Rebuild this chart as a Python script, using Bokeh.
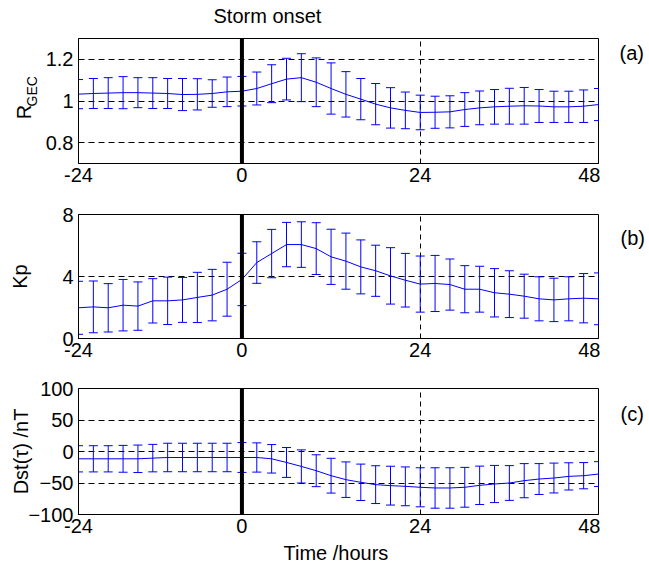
from bokeh.plotting import figure
from bokeh.models import (ColumnDataSource, Whisker, TeeHead, Range1d, FixedTicker,
                          NumeralTickFormatter, Span, LinearAxis)
from bokeh.core.properties import value
from bokeh.layouts import column, row
from bokeh.embed import file_html
from bokeh.resources import INLINE

# ---------------- data ----------------
hours = [-22, -20, -18, -16, -14, -12, -10, -8, -6, -4, -2, 0, 2, 4, 6, 8, 10, 12,
         14, 16, 18, 20, 22, 24, 26, 28, 30, 32, 34, 36, 38, 40, 42, 44, 46, 48]
x_ticks = [-22, 0, 24, 48]
x_tick_labels = {-22: "-24"}

rgec_mean = [1.033, 1.036, 1.038, 1.040, 1.040, 1.038, 1.036, 1.031, 1.032, 1.036, 1.044, 1.047,
             1.060, 1.083, 1.105, 1.112, 1.090, 1.060, 1.032, 1.009, 0.985, 0.967, 0.955, 0.945,
             0.946, 0.948, 0.959, 0.967, 0.972, 0.975, 0.977, 0.976, 0.972, 0.972, 0.975, 0.983]
rgec_std = [0.070, 0.072, 0.074, 0.077, 0.072, 0.074, 0.072, 0.077, 0.075, 0.066, 0.071, 0.071,
            0.079, 0.091, 0.100, 0.115, 0.117, 0.123, 0.109, 0.099, 0.099, 0.097, 0.088, 0.083,
            0.077, 0.077, 0.081, 0.081, 0.083, 0.086, 0.088, 0.079, 0.075, 0.075, 0.078, 0.077]

kp_mean = [1.98, 2.04, 1.98, 2.15, 2.09, 2.43, 2.43, 2.49, 2.65, 2.80, 3.18, 3.81,
           4.90, 5.48, 6.06, 6.06, 5.80, 5.27, 4.99, 4.62, 4.37, 4.04, 3.76, 3.51,
           3.55, 3.48, 3.18, 3.18, 2.95, 2.86, 2.73, 2.56, 2.49, 2.56, 2.60, 2.56]
kp_std = [1.71, 1.67, 1.56, 1.66, 1.56, 1.43, 1.53, 1.45, 1.62, 1.66, 1.74, 1.69,
          1.34, 1.56, 1.43, 1.47, 1.67, 1.78, 1.81, 1.74, 1.65, 1.82, 1.73, 1.81,
          1.81, 1.65, 1.52, 1.48, 1.56, 1.51, 1.42, 1.42, 1.40, 1.42, 1.59, 1.67]

dst_mean = [-11.6, -11.6, -11.6, -11.6, -11.6, -10.5, -9.5, -9.5, -9.5, -9.5, -9.5, -9.5,
            -9.5, -11.6, -17.4, -23.7, -30.5, -38.4, -44.7, -48.9, -52.6, -54.2, -55.3, -56.8,
            -57.9, -57.9, -56.8, -53.7, -51.6, -50.0, -46.3, -43.7, -42.1, -39.5, -38.4, -35.8]
dst_std = [20.8, 20.8, 20.8, 21.3, 21.8, 21.8, 22.6, 22.6, 22.6, 22.6, 22.6, 23.7,
           23.2, 22.6, 23.7, 26.3, 25.3, 27.6, 28.2, 28.9, 30.0, 30.8, 30.8, 31.0,
           32.1, 32.1, 31.6, 30.5, 29.5, 27.6, 27.1, 24.5, 23.7, 21.6, 20.8, 19.7]

FONT = "Liberation Sans"
FS = "20px"
BLUE = "#0000ff"
NB = "\u00a0"
TOTAL_W = 648
PANEL_W = 600        # panel figures: frame from x=78 to x=598
RIGHT_W = TOTAL_W - PANEL_W
DY = 7.5             # measured offset between anchor and drawn baseline


def style_label(ax, text, size, standoff):
    ax.axis_label = text
    ax.axis_label_text_font = FONT
    ax.axis_label_text_font_size = size
    ax.axis_label_text_font_style = "normal"
    ax.axis_label_text_color = "black"
    ax.axis_label_standoff = standoff


def make_panel(mean, std, yr, yticks, height, top, bottom, fmt=None,
               ylabel=None, ylabel_size=FS, ylabel_standoff=5):
    p = figure(width=PANEL_W, height=height, x_range=Range1d(-22, 48), y_range=Range1d(*yr),
               output_backend="svg", toolbar_location=None,
               min_border_left=78, min_border_right=2,
               min_border_top=top, min_border_bottom=bottom,
               background_fill_color="white", border_fill_color="white")
    p.outline_line_color = "black"
    p.outline_line_width = 1
    p.outline_line_alpha = 1

    for ax in (p.xaxis[0], p.yaxis[0]):
        ax.axis_line_color = "black"
        ax.major_tick_in = 3
        ax.major_tick_out = 0
        ax.minor_tick_line_color = None
        ax.major_tick_line_color = "black"
        ax.major_label_text_font = FONT
        ax.major_label_text_font_size = FS
        ax.major_label_text_color = "black"

    p.xaxis.ticker = FixedTicker(ticks=x_ticks)
    p.xaxis.major_label_overrides = x_tick_labels
    p.xaxis.major_label_standoff = 4
    p.yaxis.ticker = FixedTicker(ticks=yticks)
    p.yaxis.major_label_standoff = 5
    if fmt:
        p.yaxis.formatter = NumeralTickFormatter(format=fmt)
    if ylabel:
        style_label(p.yaxis[0], ylabel, ylabel_size, ylabel_standoff)

    p.xgrid.ticker = FixedTicker(ticks=[24])
    p.xgrid.grid_line_color = "black"
    p.xgrid.grid_line_dash = "5 4"
    p.ygrid.grid_line_color = "black"
    p.ygrid.grid_line_dash = "6 4"

    upper = [m + s for m, s in zip(mean, std)]
    lower = [m - s for m, s in zip(mean, std)]
    src = ColumnDataSource(dict(x=hours, mean=mean, upper=upper, lower=lower))
    p.line("x", "mean", source=src, line_color=BLUE, line_width=1)
    p.add_layout(Whisker(base="x", upper="upper", lower="lower", source=src,
                         line_color=BLUE, line_width=1,
                         upper_head=TeeHead(size=9, line_color=BLUE, line_width=1),
                         lower_head=TeeHead(size=9, line_color=BLUE, line_width=1)))
    p.add_layout(Span(location=0, dimension="height", line_color="black", line_width=4))
    return p


def strip(width, height):
    s = figure(width=width, height=height, x_range=Range1d(0, width), y_range=Range1d(0, height),
               x_axis_location=None, y_axis_location=None, output_backend="svg",
               toolbar_location=None, min_border=0,
               background_fill_color="white", border_fill_color="white")
    s.outline_line_color = None
    s.xgrid.visible = False
    s.ygrid.visible = False
    return s


def lab(p, text, x, y, size=FS, align="left"):
    p.text(x=[x], y=[y + DY], text=[text], text_font=value(FONT),
           text_font_size=value(size), text_color="black", text_align=align,
           text_baseline="alphabetic")


# top strip (page rows 0-30)
top = strip(TOTAL_W, 30)
lab(top, "Storm onset", 213, 7)

# row A (page rows 30-193, frame 38-163): subscript "GEC" on the main axis, "R" on an outer axis
pa = make_panel(rgec_mean, rgec_std, (0.7, 1.3), [0.8, 1.0, 1.2], 163, 8, 30, fmt="0.[0]",
                ylabel=NB * 5 + "GEC", ylabel_size="14px", ylabel_standoff=3)
r_axis = LinearAxis(ticker=FixedTicker(ticks=[]), axis_line_color=None,
                    major_tick_line_color=None, minor_tick_line_color=None,
                    major_tick_in=0, major_tick_out=0, minor_tick_in=0, minor_tick_out=0,
                    major_label_standoff=0, major_label_text_font_size="0px")
style_label(r_axis, "R" + NB * 4, FS, -14)
pa.add_layout(r_axis, "left")
ra = strip(RIGHT_W, 163)
lab(ra, "(a)", 19, 137)

# row B (page rows 193-368, frame 214-338)
pb = make_panel(kp_mean, kp_std, (0, 8), [0, 4, 8], 175, 21, 30,
                ylabel="Kp", ylabel_standoff=28)
rb = strip(RIGHT_W, 175)
lab(rb, "(b)", 20, 134)

# row C (page rows 368-541, frame 388-514)
pc = make_panel(dst_mean, dst_std, (-100, 100), [-100, -50, 0, 50, 100], 173, 20, 27,
                ylabel="Dst(\u03c4) /nT", ylabel_standoff=-7)
rc = strip(RIGHT_W, 173)
lab(rc, "(c)", 20, 131)

# bottom strip (page rows 541-564)
bot = strip(TOTAL_W, 23)
lab(bot, "Time /hours", 283, 4)

layout = column(top,
                row(pa, ra, spacing=0),
                row(pb, rb, spacing=0),
                row(pc, rc, spacing=0),
                bot, spacing=0)
open("out.html", "w").write(file_html(layout, INLINE))
